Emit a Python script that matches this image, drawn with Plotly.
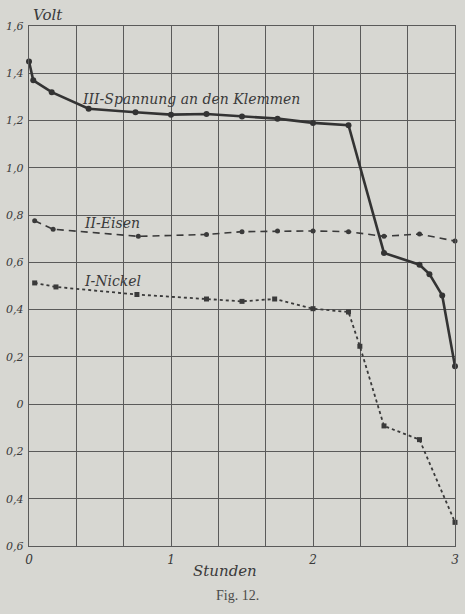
import plotly.graph_objects as go

# --- data ---
hours_klemmen = [0.0, 0.03, 0.16, 0.42, 0.75, 1.0, 1.25, 1.5, 1.75, 2.0, 2.25, 2.5, 2.75, 2.82, 2.91, 3.0]
volt_klemmen = [1.45, 1.37, 1.32, 1.25, 1.235, 1.225, 1.228, 1.217, 1.208, 1.19, 1.18, 0.64, 0.59, 0.55, 0.46, 0.16]

hours_eisen = [0.04, 0.17, 0.77, 1.25, 1.5, 1.75, 2.0, 2.25, 2.5, 2.75, 3.0]
volt_eisen = [0.776, 0.74, 0.71, 0.718, 0.73, 0.733, 0.733, 0.73, 0.71, 0.72, 0.69]

hours_nickel = [0.04, 0.19, 0.76, 1.25, 1.5, 1.73, 2.0, 2.25, 2.33, 2.5, 2.75, 3.0]
volt_nickel = [0.513, 0.496, 0.464, 0.445, 0.435, 0.445, 0.404, 0.39, 0.245, -0.092, -0.15, -0.50]

series_labels = ["III-Spannung an den Klemmen", "II-Eisen", "I-Nickel"]
x_tick_vals = [i / 3 for i in range(10)]
x_tick_text = ["0", "", "", "1", "", "", "2", "", "", "3"]
y_tick_vals = [-0.6, -0.4, -0.2, 0.0, 0.2, 0.4, 0.6, 0.8, 1.0, 1.2, 1.4, 1.6]
y_tick_text = ["0,6", "0,4", "0,2", "0", "0,2", "0,4", "0,6", "0,8", "1,0", "1,2", "1,4", "1,6"]

paper = "#d7d7d2"
ink = "#3a3a3a"
grid = "#5a5a5a"
hand = "DejaVu Serif"

fig = go.Figure()
fig.add_trace(go.Scatter(
    x=hours_klemmen, y=volt_klemmen, mode="lines+markers",
    line=dict(color="#333333", width=2.6),
    marker=dict(size=6, color="#333333"), cliponaxis=False,
))
fig.add_trace(go.Scatter(
    x=hours_eisen, y=volt_eisen, mode="lines+markers",
    line=dict(color="#3a3a3a", width=1.6, dash="7px,5px"),
    marker=dict(size=5, color="#3a3a3a"), cliponaxis=False,
))
fig.add_trace(go.Scatter(
    x=hours_nickel, y=volt_nickel, mode="lines+markers",
    line=dict(color="#3a3a3a", width=1.8, dash="dot"),
    marker=dict(size=5, color="#3a3a3a", symbol="square"), cliponaxis=False,
))

label_font = dict(family=hand, size=14, color=ink, style="italic")
fig.add_annotation(x=0.36, y=1.29, text=series_labels[0], showarrow=False,
                   xanchor="left", yanchor="middle", font=label_font)
fig.add_annotation(x=0.37, y=0.765, text=series_labels[1], showarrow=False,
                   xanchor="left", yanchor="middle", font=label_font)
fig.add_annotation(x=0.37, y=0.52, text=series_labels[2], showarrow=False,
                   xanchor="left", yanchor="middle", font=label_font)

fig.add_annotation(x=0.0, y=1.0, xref="paper", yref="paper", text="Volt",
                   showarrow=False, xanchor="left", yanchor="bottom", yshift=0, xshift=2,
                   font=dict(family=hand, size=15, color=ink, style="italic"))
fig.add_annotation(x=0.46, y=0, xref="paper", yref="paper", text="Stunden",
                   showarrow=False, xanchor="center", yanchor="top", yshift=-14,
                   font=dict(family=hand, size=15, color=ink, style="italic"))
fig.add_annotation(x=0.49, y=0, xref="paper", yref="paper", text="Fig. 12.",
                   showarrow=False, xanchor="center", yanchor="top", yshift=-40,
                   font=dict(family="Liberation Serif", size=14, color="#4a4a4a"))

fig.update_layout(
    width=465, height=614,
    margin=dict(l=29, r=10, t=26, b=68, autoexpand=False),
    paper_bgcolor=paper, plot_bgcolor=paper,
    showlegend=False,
    xaxis=dict(range=[0, 3], tickvals=x_tick_vals, ticktext=x_tick_text,
               showgrid=True, gridcolor=grid, gridwidth=1, zeroline=False,
               showline=True, linecolor=grid, linewidth=1.2, mirror=True,
               ticks="", ticklabelstandoff=2, automargin=False,
               tickfont=dict(family=hand, size=12, color=ink, style="italic")),
    yaxis=dict(range=[-0.6, 1.6], tickvals=y_tick_vals, ticktext=y_tick_text,
               showgrid=True, gridcolor=grid, gridwidth=1, zeroline=False,
               showline=True, linecolor=grid, linewidth=1.2, mirror=True,
               ticks="", ticklabelstandoff=2, automargin=False,
               tickfont=dict(family=hand, size=11, color=ink, style="italic")),
)

fig.write_html("out.html", config={"displayModeBar": False, "staticPlot": True})

# remove the default page margin so the figure sits at the window origin
with open("out.html", "r", encoding="utf-8") as f:
    html = f.read()
html = html.replace("<head>", "<head><style>html,body{margin:0;padding:0;overflow:hidden;background:%s;}</style>" % paper, 1)
with open("out.html", "w", encoding="utf-8") as f:
    f.write(html)
